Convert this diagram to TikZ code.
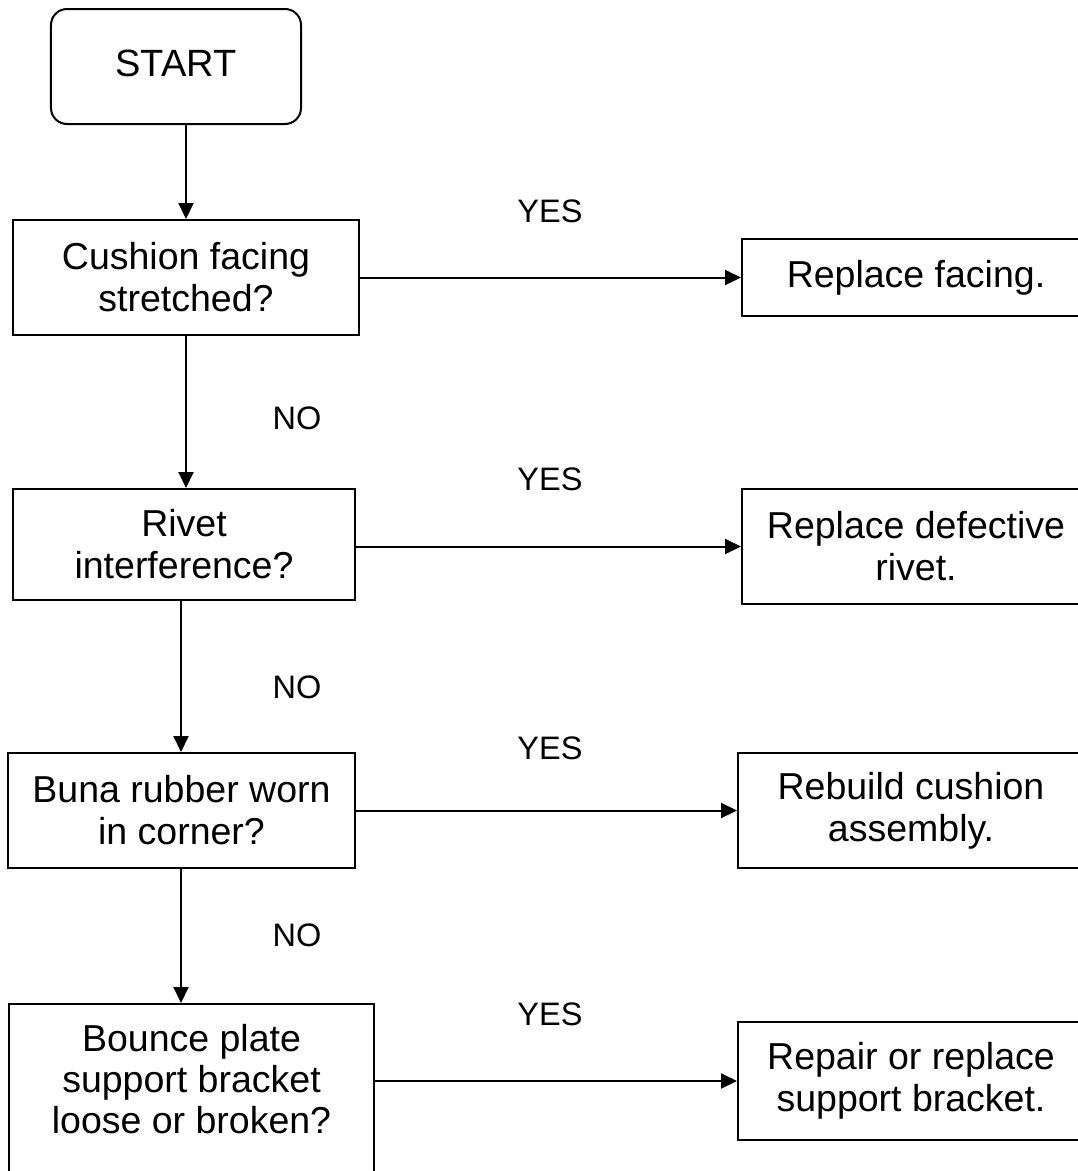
\documentclass[tikz,border=0pt]{standalone}
\usepackage{fontspec}
\setmainfont{Liberation Sans}
\usetikzlibrary{arrows.meta,calc}
\begin{document}
\begin{tikzpicture}[x=1bp,y=-1bp,
  box/.style={draw=black,line width=2bp,rectangle,inner sep=0pt,align=center,
    font=\fontsize{37.5bp}{42bp}\selectfont},
  startbox/.style={box,rounded corners=16bp,font=\fontsize{38bp}{43bp}\selectfont},
  lbl/.style={inner sep=0pt,font=\fontsize{32.5bp}{36bp}\selectfont},
  arr/.style={line width=2bp,-{Triangle[length=16bp,width=15bp]}}]
\clip (0,0) rectangle (1078,1171);
\useasboundingbox (0,0) rectangle (1078,1171);
\fill[white] (0,0) rectangle (1078,1171);

\node[startbox,minimum width=250bp,minimum height=115bp] (start) at (176,66.5) {\raisebox{6bp}{START}};

\node[box,minimum width=346bp,minimum height=115bp] (b1) at (186,277.5) {Cushion facing\\stretched?};
\node[box,minimum width=342bp,minimum height=111bp] (b2) at (184,544.5) {Rivet\\interference?};
\node[box,minimum width=347bp,minimum height=115bp] (b3) at (181.5,810.5) {Buna rubber worn\\in corner?};
\node[box,minimum width=365bp,minimum height=182bp,anchor=north west,font=\fontsize{37.5bp}{41bp}\selectfont] (b4) at (8,1003) {Bounce plate\\support bracket\\loose or broken?\\[-9bp]~};

\node[box,minimum width=348bp,minimum height=77bp] (r1) at (916,277.5) {Replace facing.};
\node[box,minimum width=348bp,minimum height=115bp] (r2) at (916,546.5) {Replace defective\\rivet.};
\node[box,minimum width=346bp,minimum height=115bp] (r3) at (911,810.5) {Rebuild cushion\\assembly.};
\node[box,minimum width=346bp,minimum height=118bp] (r4) at (911,1081) {Repair or replace\\support bracket.};

\draw[arr] (start.south -| b1.north) -- (b1.north);
\draw[arr] (b1.south) -- (b1.south |- b2.north);
\coordinate (c23) at (181,0);
\draw[arr] (c23 |- b2.south) -- (c23 |- b3.north);
\draw[arr] (c23 |- b3.south) -- (c23 |- b4.north);

\draw[arr] (b1.east |- r1.west) -- (r1.west);
\draw[arr] (b2.east |- r2.west) -- (r2.west);
\draw[arr] (b3.east |- r3.west) -- (r3.west);
\draw[arr] (b4.east |- r4.west) -- (r4.west);

\node[lbl] (y1) at (550,211) {YES};
\node[lbl] (y2) at (550,479) {YES};
\node[lbl] (y3) at (550,748) {YES};
\node[lbl] (y4) at (550,1014) {YES};
\node[lbl] (n1) at (297,418) {NO};
\node[lbl] (n2) at (297,687) {NO};
\node[lbl] (n3) at (297,935) {NO};
\end{tikzpicture}
\end{document}
